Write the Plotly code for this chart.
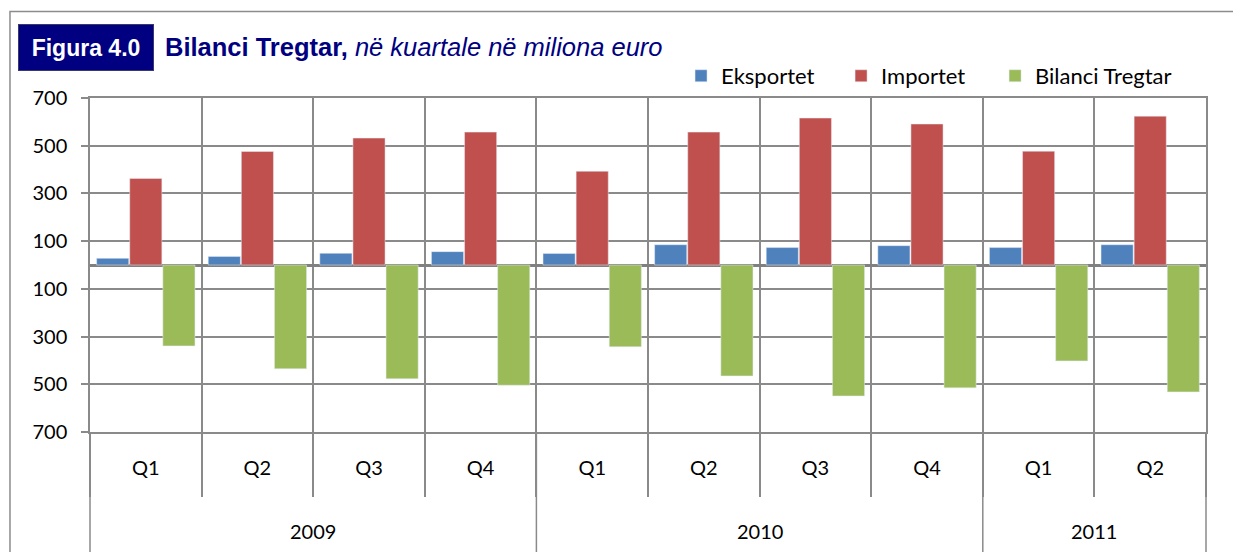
import plotly.graph_objects as go

# quarterly trade data, million euro
years = ["2009", "2009", "2009", "2009", "2010", "2010", "2010", "2010", "2011", "2011"]
quarters = ["Q1", "Q2", "Q3", "Q4", "Q1", "Q2", "Q3", "Q4", "Q1", "Q2"]
eksportet = [28, 36, 49, 56, 48, 85, 73, 81, 73, 85]
importet = [363, 476, 532, 557, 393, 557, 616, 591, 477, 624]
bilanci = [-339, -435, -477, -504, -343, -465, -549, -515, -402, -532]

y_ticks = [-700, -500, -300, -100, 100, 300, 500, 700]
y_labels = [str(abs(v)) for v in y_ticks]

cats = [y + " " + q for y, q in zip(years, quarters)]

GRID = "#8a8a8a"
LABEL_FONT = "Lato, Carlito, Calibri, sans-serif"
TITLE_FONT = "Liberation Sans, Arial, sans-serif"
tick_font = dict(family=LABEL_FONT, size=20, color="black")

fig = go.Figure()
fig.add_trace(go.Bar(x=cats, y=eksportet, name="Eksportet", marker_color="#4F81BD", legend="legend"))
fig.add_trace(go.Bar(x=cats, y=importet, name="Importet", marker_color="#C0504D", legend="legend2"))
fig.add_trace(go.Bar(x=cats, y=bilanci, name="Bilanci Tregtar", marker_color="#9BBB59", legend="legend3"))

# year labels and the dividers between years, under the quarter row
shapes = []
annotations = []
year_list = []
for y in years:
    if y not in year_list:
        year_list.append(y)
for y in year_list:
    idx = [i for i, v in enumerate(years) if v == y]
    annotations.append(dict(
        x=sum(idx) / len(idx), xref="x", y=-0.295, yref="paper",
        text=y, showarrow=False, font=tick_font, yanchor="middle"
    ))
    if idx[0] > 0:
        shapes.append(dict(type="line", xref="x", yref="paper",
                           x0=idx[0] - 0.5, x1=idx[0] - 0.5, y0=0, y1=-0.4,
                           line=dict(color=GRID, width=1.5)))
for xp in [0, 1]:
    shapes.append(dict(type="line", xref="paper", yref="paper",
                       x0=xp, x1=xp, y0=0, y1=-0.4,
                       line=dict(color=GRID, width=1.5)))

# outer chart frame
shapes.append(dict(type="rect", xref="paper", yref="paper",
                   x0=-0.0717, x1=1.05, y0=-0.5, y1=1.259,
                   line=dict(color="#8c8c8c", width=1.5), layer="below"))

# title block
annotations.append(dict(
    x=-0.0642, xref="paper", y=1.152, yref="paper", xanchor="left", yanchor="middle",
    text="<b>Figura 4.0</b>", showarrow=False, width=134, height=45,
    bgcolor="#000080", bordercolor="#3a3a6a", borderwidth=1, borderpad=0,
    font=dict(family=TITLE_FONT, size=23, color="white")
))
annotations.append(dict(
    x=0.0654, xref="paper", y=1.152, yref="paper", xanchor="left", yanchor="middle",
    text="<b>Bilanci Tregtar,</b> <i>në kuartale në miliona euro</i>", showarrow=False,
    font=dict(family=TITLE_FONT, size=25.5, color="#000080")
))

legend_style = dict(
    orientation="h", xanchor="left", y=1.066, yanchor="middle",
    font=dict(family=LABEL_FONT, size=22, color="black"),
    bgcolor="rgba(0,0,0,0)"
)

# the page adds an 8px body margin, so the figure is 8px smaller than the window
fig.update_layout(
    width=1233,
    height=544,
    margin=dict(l=82, r=35, t=90, b=120),
    plot_bgcolor="white",
    paper_bgcolor="white",
    barmode="group",
    bargap=0.11,
    bargroupgap=0.03,
    showlegend=True,
    legend=dict(legend_style, x=0.5296),
    legend2=dict(legend_style, x=0.6730),
    legend3=dict(legend_style, x=0.8110),
    shapes=shapes,
    annotations=annotations,
    hovermode=False,
)

fig.update_xaxes(
    tickmode="array", tickvals=cats, ticktext=quarters,
    tickson="boundaries", ticks="outside", ticklen=63, tickwidth=1.5, tickcolor=GRID,
    ticklabelstandoff=17,
    showgrid=True, gridcolor=GRID, gridwidth=1.5,
    showline=True, linecolor=GRID, linewidth=1.5, mirror=True,
    tickfont=tick_font, automargin=False,
)
fig.update_yaxes(
    range=[-700, 700], tickmode="array", tickvals=y_ticks, ticktext=y_labels,
    ticks="outside", ticklen=7, tickwidth=1.5, tickcolor=GRID,
    ticklabelstandoff=10,
    showgrid=True, gridcolor=GRID, gridwidth=1.5,
    zeroline=True, zerolinecolor="#808080", zerolinewidth=2.5,
    showline=True, linecolor=GRID, linewidth=1.5, mirror=True,
    tickfont=tick_font, automargin=False,
)

fig.write_html("out.html")
